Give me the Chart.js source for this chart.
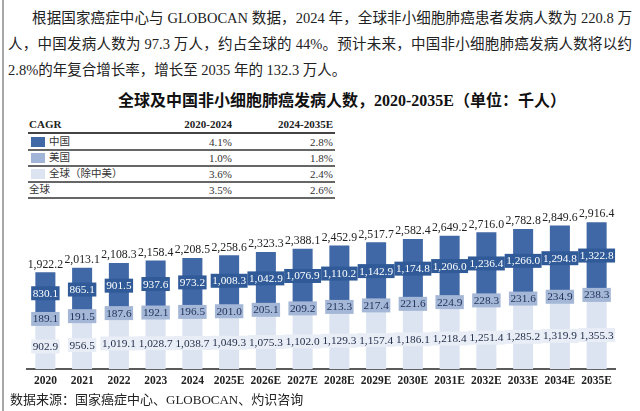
<!DOCTYPE html>
<html lang="zh">
<head>
<meta charset="utf-8" />
<script src="https://cdn.jsdelivr.net/npm/chart.js@4"></script>
<style>
  html, body { margin: 0; padding: 0; background: #fff; }
  #page { position: relative; width: 640px; height: 411px; overflow: hidden; background: #fff;
          font-family: "Liberation Serif", "Noto Sans CJK SC", serif; color: #222; }
  #edge { position: absolute; left: 2px; top: 0; width: 1.5px; height: 411px; background: #a8a8a8; }
  .ln { position: absolute; font-size: 14.5px; line-height: 20px; white-space: nowrap;
        text-align: justify; text-align-last: justify; }
  #title { position: absolute; left: 118px; top: 87px; font-size: 16px; font-weight: bold; white-space: nowrap; color: #111; }
  #src { position: absolute; left: 10px; top: 389px; font-size: 13px; white-space: nowrap; color: #222; }
  #chartBox { position: absolute; left: 0; top: 195px; width: 640px; height: 216px; }
  .tb { position: absolute; font-size: 11px; line-height: 14px; white-space: nowrap; }
  .rule { position: absolute; left: 28px; width: 307px; height: 1.5px; background: #666; }
  .sw { position: absolute; left: 31px; width: 14px; height: 10px; }
</style>
</head>
<body>
<div id="page">
  <div id="edge"></div>
  <div class="ln" style="left:32px; top:8px; width:600px;">根据国家癌症中心与 GLOBOCAN 数据，2024 年，全球非小细胞肺癌患者发病人数为 220.8 万</div>
  <div class="ln" style="left:8px; top:34px; width:624px;">人，中国发病人数为 97.3 万人，约占全球的 44%。预计未来，中国非小细胞肺癌发病人数将以约</div>
  <div class="ln" style="left:8px; top:60px;">2.8%的年复合增长率，增长至 2035 年的 132.3 万人。</div>
  <div id="title">全球及中国非小细胞肺癌发病人数，2020-2035E（单位：千人）</div>
  <div id="table"></div>
  <div id="chartBox"><canvas id="myChart"></canvas></div>
  <div id="src">数据来源：国家癌症中心、GLOBOCAN、灼识咨询</div>
</div>

<script>
  // categories
  var years = ['2020','2021','2022','2023','2024','2025E','2026E','2027E',
               '2028E','2029E','2030E','2031E','2032E','2033E','2034E','2035E'];

  // series (thousand people)
  var china = [830.1, 865.1, 901.5, 937.6, 973.2, 1008.3, 1042.9, 1076.9,
               1110.2, 1142.9, 1174.8, 1206.0, 1236.4, 1266.0, 1294.8, 1322.8];
  var usa   = [189.1, 191.5, 187.6, 192.1, 196.5, 201.0, 205.1, 209.2,
               213.3, 217.4, 221.6, 224.9, 228.3, 231.6, 234.9, 238.3];
  var rest  = [902.9, 956.5, 1019.1, 1028.7, 1038.7, 1049.3, 1075.3, 1102.0,
               1129.3, 1157.4, 1186.1, 1218.4, 1251.4, 1285.2, 1319.9, 1355.3];
  var total = [1922.2, 2013.1, 2108.3, 2158.4, 2208.5, 2258.6, 2323.3, 2388.1,
               2452.9, 2517.7, 2582.4, 2649.2, 2716.0, 2782.8, 2849.6, 2916.4];

  // CAGR table
  var cagrHead = ['CAGR', '2020-2024', '2024-2035E'];
  var cagrRows = ['中国', '美国', '全球（除中美）', '全球'];
  var cagrA = ['4.1%', '1.0%', '3.6%', '3.5%'];
  var cagrB = ['2.8%', '1.8%', '2.4%', '2.6%'];

  var colChina = '#4067a6', colUsa = '#a0b5d7', colRest = '#dce4f1';
  var swatch = [colChina, colUsa, colRest, null];

  // costruisco la tabella CAGR
  var tbl = document.getElementById('table');
  var html = '';
  html += '<div class="tb" style="left:29px;top:117px;font-weight:bold;">' + cagrHead[0] + '</div>';
  html += '<div class="tb" style="right:408px;top:117px;font-weight:bold;">' + cagrHead[1] + '</div>';
  html += '<div class="tb" style="right:307px;top:117px;font-weight:bold;">' + cagrHead[2] + '</div>';
  html += '<div class="rule" style="top:132px;height:2px;background:#444;"></div>';
  for (var r = 0; r < cagrRows.length; r++) {
    var rowTop = 135 + r * 16;
    var rowLeft = swatch[r] ? 49 : 29;
    if (swatch[r]) html += '<div class="sw" style="top:' + (rowTop + 2) + 'px;background:' + swatch[r] + ';"></div>';
    html += '<div class="tb" style="left:' + rowLeft + 'px;top:' + rowTop + 'px;font-size:10.5px;color:#333;">' + cagrRows[r] + '</div>';
    html += '<div class="tb" style="right:408px;top:' + rowTop + 'px;color:#333;">' + cagrA[r] + '</div>';
    html += '<div class="tb" style="right:307px;top:' + rowTop + 'px;color:#333;">' + cagrB[r] + '</div>';
    html += '<div class="rule" style="top:' + (149 + r * 16) + 'px;"></div>';
  }
  tbl.innerHTML = html;

  function fmt(v) {
    return v.toLocaleString('en-US', { minimumFractionDigits: 1, maximumFractionDigits: 1 });
  }

  // etichette dentro le barre e totale sopra
  var boxStyle = [
    { fill: '#e8edf6', text: '#1e2a45' },
    { fill: '#a4b7d6', text: '#1d2f58' },
    { fill: '#305b98', text: '#ffffff' }
  ];

  var labelPlugin = {
    id: 'barLabels',
    afterDatasetsDraw: function (chart) {
      var ctx = chart.ctx;
      ctx.save();
      ctx.font = '11.3px "Liberation Serif"';
      ctx.textAlign = 'center';
      ctx.textBaseline = 'middle';
      chart.data.datasets.forEach(function (ds, di) {
        var meta = chart.getDatasetMeta(di);
        meta.data.forEach(function (bar, i) {
          var txt = fmt(ds.data[i]);
          var cy = (bar.y + bar.base) / 2;
          var w = ctx.measureText(txt).width + 3;
          ctx.fillStyle = boxStyle[di].fill;
          ctx.fillRect(bar.x - w / 2, cy - 7, w, 14);
          ctx.fillStyle = boxStyle[di].text;
          ctx.fillText(txt, bar.x, cy + 0.5);
        });
      });
      var topMeta = chart.getDatasetMeta(chart.data.datasets.length - 1);
      ctx.fillStyle = '#222';
      ctx.textBaseline = 'bottom';
      ctx.font = '11.8px "Liberation Serif"';
      topMeta.data.forEach(function (bar, i) {
        ctx.fillText(fmt(total[i]), bar.x, bar.y - 2);
      });
      ctx.restore();
    }
  };

  const ctx = document.getElementById('myChart');
  const myChart = new Chart(ctx, {
    type: 'bar',
    data: {
      labels: years,
      datasets: [
        { label: '全球（除中美）', data: rest, backgroundColor: colRest },
        { label: '美国', data: usa, backgroundColor: colUsa },
        { label: '中国', data: china, backgroundColor: colChina }
      ]
    },
    options: {
      responsive: true,
      maintainAspectRatio: false,
      animation: false,
      layout: { padding: { left: 27, right: 25, top: 23, bottom: 18 } },
      datasets: { bar: { categoryPercentage: 1, barPercentage: 0.545 } },
      plugins: { legend: { display: false }, tooltip: { enabled: false } },
      scales: {
        x: {
          stacked: true,
          grid: { display: true, drawOnChartArea: false, drawTicks: false },
          border: { display: true, color: '#5a5a5a', width: 2 },
          ticks: { color: '#222', padding: 5, font: { family: 'Liberation Serif', size: 11.5, weight: 'bold' } }
        },
        y: { stacked: true, display: false, min: 0, max: 3000 }
      }
    },
    plugins: [labelPlugin]
  });
</script>
</body>
</html>
